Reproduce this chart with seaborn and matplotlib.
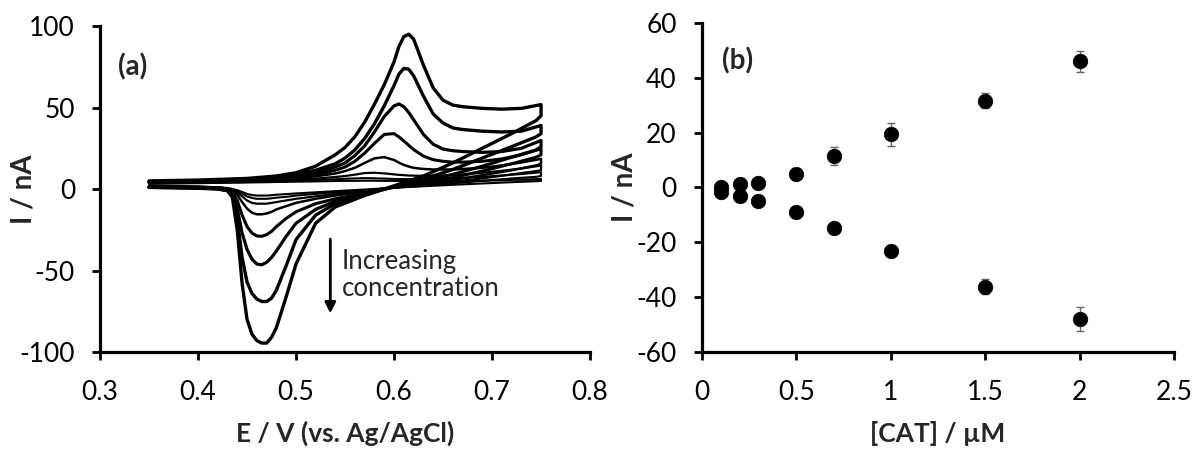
import numpy as np
import pandas as pd
import matplotlib
matplotlib.use("Agg")
import matplotlib.pyplot as plt
import seaborn as sns

sns.set_theme(style="white")
plt.rcParams['font.family'] = ['Lato', 'DejaVu Sans']
plt.rcParams['axes.unicode_minus'] = False

# ---- panel (a): cyclic voltammograms ----
# forward scan (0.35 -> 0.75 V) and reverse scan (0.75 -> 0.35 V) potentials
E_fwd = [0.35, 0.40, 0.45, 0.48, 0.50, 0.52, 0.54, 0.55, 0.56, 0.57, 0.58, 0.59, 0.60,
         0.605, 0.61, 0.615, 0.62, 0.63, 0.64, 0.65, 0.66, 0.67, 0.69, 0.71, 0.73, 0.75]
E_rev = [0.75, 0.745, 0.72, 0.69, 0.66, 0.63, 0.60, 0.57, 0.54, 0.52, 0.50, 0.49, 0.48,
         0.475, 0.47, 0.465, 0.46, 0.455, 0.45, 0.445, 0.44, 0.435, 0.43, 0.42, 0.40, 0.35]

# currents in nA, lowest concentration first
I_fwd = [
    [3.2, 3.6, 4, 4.3, 4.5, 4.7, 4.9, 5, 5, 5.1, 5.1, 5, 5, 4.9, 4.9, 4.9, 4.8, 4.8, 4.8, 4.8, 4.8, 4.9, 5.1, 5.4, 5.8, 6.2],
    [3.4, 3.8, 4.3, 4.8, 5.1, 5.5, 6, 6.3, 6.5, 6.7, 6.6, 6.4, 6.2, 6.1, 6.1, 6.1, 6.1, 6.2, 6.3, 6.4, 6.5, 6.8, 7.5, 8.3, 9.2, 10.3],
    [3.6, 4, 4.6, 5.2, 5.7, 6.4, 7.4, 8, 8.8, 9.8, 10, 9.6, 9, 8.7, 8.5, 8.3, 8.2, 8.1, 8.2, 8.3, 8.5, 9, 10, 11.2, 12.6, 14.4],
    [3.8, 4.2, 4.9, 5.8, 6.5, 7.8, 9.5, 11, 13, 16, 18.8, 19.6, 17.8, 16.2, 14.8, 13.8, 13, 12.3, 12, 12, 12, 12.3, 13, 14.5, 16.3, 18.5],
    [4, 4.5, 5.2, 6.3, 7.3, 8.8, 11.5, 13.5, 17, 22, 28, 33.5, 34, 32, 29.5, 26.8, 24.2, 20.2, 18, 17, 16.5, 16.5, 17, 18.5, 21, 24.7],
    [4.3, 4.8, 5.5, 6.8, 8, 10, 13.5, 16, 20.5, 26.5, 35, 44.5, 51, 52.2, 50.5, 47, 42.5, 33.5, 27.5, 24.5, 23.5, 23, 22.5, 23, 25, 29.8],
    [4.5, 5, 6, 7.5, 9, 11.5, 15.5, 19, 24, 31, 40, 51, 63.5, 70.5, 74, 73.5, 69.5, 57, 46, 40.5, 37.5, 36.5, 35.5, 35, 35.5, 39],
    [5, 5.5, 6.5, 8, 10, 14, 21, 25.5, 32, 41, 52, 64, 78, 87.5, 93.5, 95, 92, 76, 62, 54.5, 51.5, 50.5, 49.5, 49, 49.5, 51.8],
]
I_rev = [
    [5, 4.8, 4.2, 3.4, 2.6, 1.7, 0.8, -0.3, -1.3, -2, -2.7, -3.1, -3.5, -3.8, -4, -4, -4, -3.7, -3, -1.8, -0.7, 0, 0.6, 1.1, 1.5, 1.8],
    [8, 7.5, 6.5, 5, 3.5, 2, 0.8, -0.8, -2, -3, -4, -4.8, -5.3, -5.7, -6, -6, -6, -5.5, -4.5, -2.8, -1.2, -0.1, 0.5, 1.1, 1.5, 1.8],
    [11.5, 11, 9, 6.5, 4.5, 2.5, 1, -1, -3, -4.5, -6, -7, -8, -8.5, -9, -9, -9, -8.5, -7, -4.5, -2, -0.3, 0.4, 1, 1.4, 1.6],
    [15.5, 14.5, 11.5, 8.5, 5.5, 3, 1, -1.5, -4, -6, -8.5, -10.5, -12.5, -14, -15, -15.5, -15.5, -14.5, -12, -8, -3.5, -0.8, 0.2, 0.8, 1.2, 1.5],
    [21, 19.5, 15.5, 11, 7, 4, 1, -2.5, -6, -9, -14, -18, -23, -26, -28, -29, -28.8, -27, -23, -16, -7, -1.8, -0.3, 0.5, 1, 1.3],
    [26, 24, 19.5, 14, 9, 5, 1.5, -3, -7.5, -12.5, -21, -29, -38, -42, -45, -46.5, -46, -43, -37, -27, -12, -2.5, -0.7, 0.3, 0.8, 1.2],
    [34, 32, 26, 19, 12, 6, 1.5, -3.5, -9, -16, -31, -47, -62, -67, -69, -69, -67.5, -64, -57, -42, -18, -3.5, -1, 0.2, 0.6, 1.1],
    [45, 42, 34, 25, 16, 8, 2, -4, -11, -21, -46, -66, -85, -91, -94.5, -94.5, -93, -89, -80, -58, -25, -5, -1, 0, 0.5, 1],
]

# ---- panel (b): peak currents vs concentration ----
conc = [0.1, 0.2, 0.3, 0.5, 0.7, 1.0, 1.5, 2.0]
I_ox = [0.3, 1.2, 1.8, 4.8, 11.5, 19.4, 31.7, 46.0]
I_ox_err = [0.5, 0.5, 0.5, 0.8, 3.3, 4.2, 2.9, 3.8]
I_red = [-1.5, -3.0, -4.9, -8.8, -14.9, -23.0, -36.2, -48.0]
I_red_err = [0.5, 0.5, 0.5, 0.8, 0.8, 1.0, 2.7, 4.5]

rows = []
for k in range(len(I_fwd)):
    E = E_fwd + E_rev
    I = I_fwd[k] + I_rev[k]
    for j, (e, i) in enumerate(zip(E, I)):
        rows.append({"curve": k, "order": j, "E": e, "I": i})
cv = pd.DataFrame(rows)

fig = plt.figure(figsize=(11.92, 4.49), dpi=100)
ax1 = fig.add_axes([0.0839, 0.216, 0.4111, 0.726])
ax2 = fig.add_axes([0.5887, 0.216, 0.3962, 0.733])

tick_fs = 19
label_fs = 19
widths = [1.5, 1.5, 1.6, 1.8, 2.2, 2.3, 2.4, 2.4]

for k, grp in cv.groupby("curve"):
    sns.lineplot(data=grp, x="E", y="I", sort=False, estimator=None, color="black",
                 linewidth=widths[k], ax=ax1)

ax1.set_xlim(0.3, 0.8)
ax1.set_ylim(-100, 100)
ax1.set_xticks([0.3, 0.4, 0.5, 0.6, 0.7, 0.8])
ax1.set_xticklabels(["0.3", "0.4", "0.5", "0.6", "0.7", "0.8"])
ax1.set_yticks([-100, -50, 0, 50, 100])
ax1.set_xlabel("E / V (vs. Ag/AgCl)", fontsize=label_fs, fontweight="bold", va="center")
ax1.set_ylabel("I / nA", fontsize=label_fs + 1, fontweight="bold", va="center")
ax1.text(0.318, 75, "(a)", fontsize=20, fontweight="bold", va="center", ha="left")
ax1.annotate("", xy=(0.535, -78), xytext=(0.535, -29),
             arrowprops=dict(arrowstyle="-|>", lw=2, color="black", mutation_scale=16))
ax1.text(0.547, -53, "Increasing\nconcentration", fontsize=18.5, va="center", ha="left",
         linespacing=1.1)

# panel b
ax2.errorbar(conc, I_ox, yerr=I_ox_err, fmt="none", ecolor="#666666", elinewidth=1,
             capsize=3, capthick=1, zorder=1)
ax2.errorbar(conc, I_red, yerr=I_red_err, fmt="none", ecolor="#666666", elinewidth=1,
             capsize=3, capthick=1, zorder=1)
sns.scatterplot(x=conc + conc, y=I_ox + I_red, color="black", s=110, edgecolor="black",
                linewidth=0.5, ax=ax2, zorder=3)
ax2.set_xlim(0, 2.5)
ax2.set_ylim(-60, 60)
ax2.set_xticks([0, 0.5, 1, 1.5, 2, 2.5])
ax2.set_xticklabels(["0", "0.5", "1", "1.5", "2", "2.5"])
ax2.set_yticks([-60, -40, -20, 0, 20, 40, 60])
ax2.set_xlabel("[CAT] / µM", fontsize=label_fs, fontweight="bold", va="center")
ax2.set_ylabel("I / nA", fontsize=label_fs + 1, fontweight="bold", va="center")
ax2.text(0.107, 46, "(b)", fontsize=20, fontweight="bold", va="center", ha="left")

for ax in (ax1, ax2):
    sns.despine(ax=ax)
    ax.spines["left"].set_linewidth(2.3)
    ax.spines["bottom"].set_linewidth(2.3)
    ax.spines["left"].set_color("black")
    ax.spines["bottom"].set_color("black")
    ax.tick_params(axis="both", direction="out", length=6, width=2, colors="black",
                   labelsize=tick_fs, left=True, bottom=True)
    ax.tick_params(axis="x", pad=14)
    ax.tick_params(axis="y", pad=12)
    ax.grid(False)
    w_px = ax.get_position().width * 1192
    h_px = ax.get_position().height * 449
    ax.xaxis.set_label_coords(0.5, -81 / h_px)
    ax.yaxis.set_label_coords(-77 / w_px, 0.5)

fig.savefig("out.png", dpi=100)
